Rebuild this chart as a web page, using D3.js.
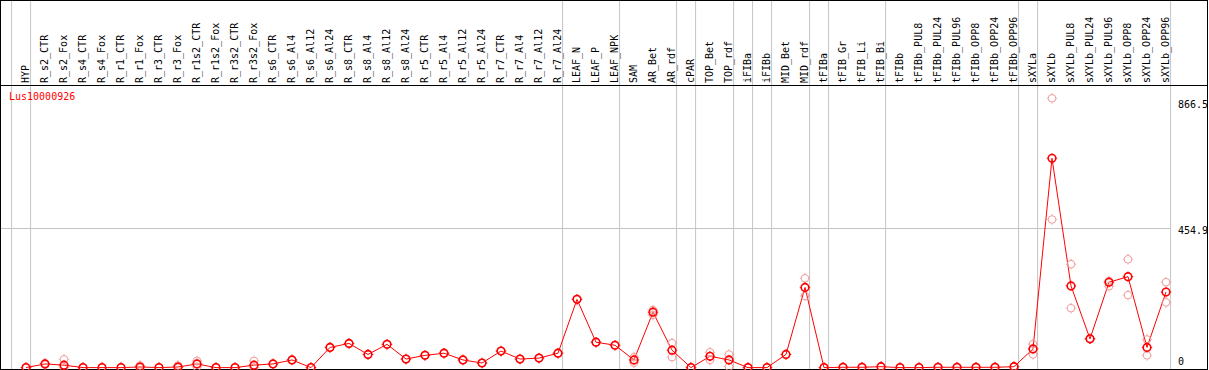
<!DOCTYPE html>
<html>
<head>
<meta charset="utf-8">
<script src="https://cdn.jsdelivr.net/npm/d3@7"></script>
<style>
  body { margin: 0; background: #fff; }
  text { font-family: "DejaVu Sans Mono", monospace; font-size: 10px; }
</style>
</head>
<body>
<div id="chart"></div>
<script>
const gene = "Lus10000926";

const samples = ["HYP", "R_s2_CTR", "R_s2_Fox", "R_s4_CTR", "R_s4_Fox", "R_r1_CTR", "R_r1_Fox",
    "R_r3_CTR", "R_r3_Fox", "R_r1s2_CTR", "R_r1s2_Fox", "R_r3s2_CTR", "R_r3s2_Fox", "R_s6_CTR",
    "R_s6_Al4", "R_s6_Al12", "R_s6_Al24", "R_s8_CTR", "R_s8_Al4", "R_s8_Al12", "R_s8_Al24",
    "R_r5_CTR", "R_r5_Al4", "R_r5_Al12", "R_r5_Al24", "R_r7_CTR", "R_r7_Al4", "R_r7_Al12",
    "R_r7_Al24", "LEAF_N", "LEAF_P", "LEAF_NPK", "SAM", "AR_Bet", "AR_rdf", "cPAR", "TOP_Bet",
    "TOP_rdf", "iFIBa", "iFIBb", "MID_Bet", "MID_rdf", "tFIBa", "tFIB_Gr", "tFIB_Li", "tFIB_Bi",
    "tFIBb", "tFIBb_PUL8", "tFIBb_PUL24", "tFIBb_PUL96", "tFIBb_OPP8", "tFIBb_OPP24", "tFIBb_OPP96",
    "sXYLa", "sXYLb", "sXYLb_PUL8", "sXYLb_PUL24", "sXYLb_PUL96", "sXYLb_OPP8", "sXYLb_OPP24",
    "sXYLb_OPP96"];

// a separator is drawn after each of these samples
const groupEnds = ["HYP", "R_r7_Al24", "LEAF_NPK", "AR_rdf", "cPAR", "TOP_rdf", "iFIBa", "iFIBb",
    "MID_rdf", "tFIBa", "tFIB_Bi", "tFIBb_OPP96", "sXYLa", "sXYLb_OPP96"];

// mean expression
const meanValues = [0, 12, 8, 0, 0, 0, 2, 0, 2, 12, 0, 0, 8, 12, 25, 0, 66, 79, 43, 76, 28, 40, 47,
    25, 15, 54, 28, 31, 47, 223, 83, 73, 25, 181, 57, 0, 37, 25, 0, 0, 43, 262, 0, 1, 1, 3, 0, 0,
    1, 1, 1, 1, 3, 61, 684, 267, 94, 279, 297, 66, 247];

// replicates
const rep1Values = [0, 14, 27, 0, 0, 0, 7, 0, 7, 22, 0, 0, 22, 12, 25, 0, 66, 79, 43, 76, 28, 40, 47,
    25, 15, 54, 28, 31, 47, 223, 83, 73, 34, 188, 80, 0, 50, 43, 0, 0, 43, 292, 0, 1, 1, 3, 0, 0,
    1, 1, 1, 1, 3, 77, 880, 338, 94, 283, 354, 92, 279];
const rep2Values = [0, 10, 0, 0, 0, 0, 0, 0, 0, 2, 0, 0, 0, 12, 25, 0, 66, 79, 43, 76, 28, 40, 47,
    25, 15, 54, 28, 31, 47, 223, 83, 73, 16, 172, 34, 0, 25, 3, 0, 0, 43, 234, 0, 1, 1, 3, 0, 0,
    1, 1, 1, 1, 3, 43, 484, 194, 94, 266, 237, 40, 213];

const yTicks = [0, 454.9, 866.5];
const gridValues = [454.9];

const width = 1209, height = 370;
const headerY = 85;

const svg = d3.select("#chart")
    .append("svg")
    .attr("width", width)
    .attr("height", height);

const x = d3.scalePoint()
    .domain(samples)
    .range([26, 26 + 19 * (samples.length - 1)]);
const step = x.step();

const y = d3.scaleLinear()
    .domain([0, 454.9])
    .range([367.6, 228.4]);

// group separators
const sepX = [x(samples[0]) - step + 4.6].concat(groupEnds.map(s => x(s) + 4.6));
svg.selectAll(".sep")
    .data(sepX)
    .enter()
    .append("line")
    .attr("x1", d => d).attr("x2", d => d)
    .attr("y1", 0).attr("y2", height)
    .attr("stroke", "#c4c4c4")
    .attr("stroke-width", 1);

// grid line
svg.selectAll(".grid")
    .data(gridValues)
    .enter()
    .append("line")
    .attr("x1", 0).attr("x2", sepX[sepX.length - 1])
    .attr("y1", d => Math.round(y(d)) + 0.5).attr("y2", d => Math.round(y(d)) + 0.5)
    .attr("stroke", "#c4c4c4");

// frame
svg.append("rect")
    .attr("x", 0.5).attr("y", 0.5)
    .attr("width", width - 2).attr("height", height - 1)
    .attr("fill", "none")
    .attr("stroke", "#000");
svg.append("line")
    .attr("x1", 0).attr("x2", width - 1)
    .attr("y1", headerY + 0.5).attr("y2", headerY + 0.5)
    .attr("stroke", "#000");

// sample labels
svg.selectAll(".lab")
    .data(samples)
    .enter()
    .append("text")
    .attr("transform", d => `translate(${x(d) + 3}, 83) rotate(-90)`)
    .attr("fill", "#000")
    .text(d => d);

// y labels
svg.selectAll(".ylab")
    .data(yTicks)
    .enter()
    .append("text")
    .attr("x", 1178)
    .attr("y", d => Math.min(y(d) + 6, 365))
    .attr("fill", "#000")
    .text(d => d);

svg.append("text")
    .attr("x", 9)
    .attr("y", 100)
    .attr("fill", "#ff0000")
    .text(gene);

// mean line
const line = d3.line()
    .x((d, i) => x(samples[i]))
    .y(d => y(d));
svg.append("path")
    .datum(meanValues)
    .attr("d", line)
    .attr("fill", "none")
    .attr("stroke", "#ff0000")
    .attr("stroke-width", 1);

function drawMarks(values, color, sw, cls) {
    const g = svg.selectAll("." + cls)
        .data(values)
        .enter()
        .append("g")
        .classed(cls, true)
        .attr("transform", (d, i) => `translate(${x(samples[i])}, ${y(d)})`);
    g.append("circle")
        .attr("r", 3.8)
        .attr("fill", "none")
        .attr("stroke", color)
        .attr("stroke-width", sw);
    // tiny nubs around the circle
    g.append("path")
        .attr("d", "M0,-5.2V-4.2M0,4.2V5.2M-5.2,0H-4.2M4.2,0H5.2")
        .attr("stroke", color)
        .attr("stroke-width", 1);
}

drawMarks(rep1Values, "#f09a9a", 1, "rep1");
drawMarks(rep2Values, "#f09a9a", 1, "rep2");
drawMarks(meanValues, "#ff0000", 1.6, "mean");
</script>
</body>
</html>
